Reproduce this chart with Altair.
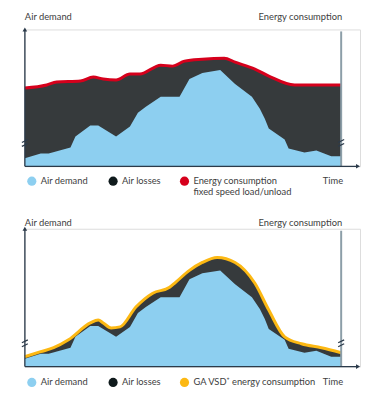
import altair as alt
import pandas as pd

# Time positions and values (arbitrary units: pixel-like heights above baseline)
demand_t = [0, 16, 24, 46, 51, 66, 74, 92, 106, 114, 122, 137, 156, 166, 179, 197, 212, 229, 237, 242, 246, 262, 266, 282, 294, 309, 319]
demand_v = [8, 13, 13, 19, 30, 41, 41, 30, 40, 54, 60, 70, 70, 88, 94, 97, 83, 70, 58, 48, 38, 27, 18, 14, 16, 10, 10]

fixed_t = [0, 22, 32, 56, 69, 79, 92, 106, 116, 137, 149, 161, 179, 201, 212, 232, 246, 272, 296, 319]
fixed_v = [79, 82, 85, 86, 90, 88, 87, 93, 93, 102, 101, 106, 108, 109, 105, 98, 91, 82, 82, 82]

vsd_t = [0, 16, 29, 44, 66, 74, 79, 87, 96, 112, 129, 146, 152, 166, 179, 194, 212, 232, 246, 262, 279, 299, 319]
vsd_v = [10, 15, 19, 27, 44, 47, 44, 39, 40, 60, 74, 80, 85, 97, 105, 110, 105, 84, 57, 30, 23, 19, 14]

legend_top = ["Air demand", "Air losses", "Energy consumption"]
legend_bottom = ["Air demand", "Air losses", "GA VSD⁺ energy consumption"]

BLUE = "#8dcff0"
DARK = "#363a3c"
BLACK = "#0f1a1c"
RED = "#d6001c"
ORANGE = "#fcb813"
AXIS = "#2b3a4a"
RAXIS = "#8c9ea8"
TXT = "#404040"
FONT = "Lato"
FS = 9.4

XMAX = 338
TEND = 319


def panel(energy_t, energy_v, line_color, labels, height, title_y, legend_y, second_line=None):
    ymax = height
    xs = alt.Scale(domain=[0, XMAX], nice=False, zero=False)
    ys = alt.Scale(domain=[0, ymax], nice=False, zero=False)
    dem = pd.DataFrame({"t": demand_t, "v": demand_v})
    en = pd.DataFrame({"t": energy_t, "v": energy_v})

    X = alt.X("t:Q", scale=xs, axis=None)
    Y = alt.Y("v:Q", scale=ys, axis=None)

    losses = alt.Chart(en).mark_area(color=DARK, interpolate="monotone").encode(x=X, y=Y)
    demand = alt.Chart(dem).mark_area(color=BLUE, interpolate="linear").encode(x=X, y=Y)
    eline = alt.Chart(en).mark_line(color=line_color, strokeWidth=3, interpolate="monotone").encode(x=X, y=Y)

    base = alt.Chart(pd.DataFrame({"a": [0]}))
    left_axis = base.mark_rule(color=AXIS, strokeWidth=1.3).encode(
        x=alt.X(datum=0, scale=xs), y=alt.Y(datum=0, scale=ys), y2=alt.Y2(datum=ymax - 1))
    right_axis = base.mark_rule(color=RAXIS, strokeWidth=2).encode(
        x=alt.X(datum=TEND, scale=xs), y=alt.Y(datum=0, scale=ys), y2=alt.Y2(datum=ymax - 2))
    x_axis = base.mark_rule(color=AXIS, strokeWidth=1.3).encode(
        x=alt.X(datum=0, scale=xs), x2=alt.X2(datum=XMAX - 3), y=alt.Y(datum=0, scale=ys))
    up_arrow = base.mark_point(shape="triangle-up", filled=True, color=AXIS, size=22, opacity=1).encode(
        x=alt.X(datum=0, scale=xs), y=alt.Y(datum=ymax, scale=ys))
    right_arrow = base.mark_point(shape="triangle-right", filled=True, color=AXIS, size=22, opacity=1).encode(
        x=alt.X(datum=XMAX - 2, scale=xs), y=alt.Y(datum=0, scale=ys))

    breaks = []
    for bx in (0, TEND):
        for dy in (0, 4):
            breaks.append(base.mark_rule(color=AXIS, strokeWidth=1.3).encode(
                x=alt.X(datum=bx - 3, scale=xs), x2=alt.X2(datum=bx + 3),
                y=alt.Y(datum=20 + dy, scale=ys), y2=alt.Y2(datum=23 + dy)))

    txt = dict(font=FONT, fontSize=FS, color=TXT, baseline="middle")
    t1 = base.mark_text(align="left", text="Air demand", **txt).encode(x=alt.value(0), y=alt.value(title_y))
    t2 = base.mark_text(align="right", text="Energy consumption", **txt).encode(x=alt.value(TEND + 1), y=alt.value(title_y))
    tt = base.mark_text(align="right", text="Time", **txt).encode(x=alt.value(TEND + 2), y=alt.value(legend_y))

    lay = [losses, demand, eline, left_axis, right_axis, x_axis, up_arrow, right_arrow] + breaks + [t1, t2, tt]
    cols = [BLUE, BLACK, line_color]
    cx = [7, 89, 161]
    for c, x0, lab in zip(cols, cx, labels):
        lay.append(base.mark_point(shape="circle", filled=True, color=c, size=85, opacity=1).encode(
            x=alt.value(x0), y=alt.value(legend_y)))
        lay.append(base.mark_text(align="left", text=lab, **txt).encode(
            x=alt.value(x0 + 9), y=alt.value(legend_y)))
    if second_line:
        lay.append(base.mark_text(align="left", text=second_line, **txt).encode(
            x=alt.value(cx[2] + 9), y=alt.value(legend_y + 11)))
    return alt.layer(*lay).properties(width=XMAX, height=height)


top = panel(fixed_t, fixed_v, RED, legend_top, 138, -13, 153, "fixed speed load/unload")
bottom = panel(vsd_t, vsd_v, ORANGE, legend_bottom, 139, -6, 155)

chart = alt.vconcat(top, bottom, spacing=20).properties(
    padding={"left": 10, "top": 1, "right": 0, "bottom": 0}
).configure_view(stroke=None).configure(background="white")

chart.save("out.html", embed_options={"renderer": "svg", "actions": False})
